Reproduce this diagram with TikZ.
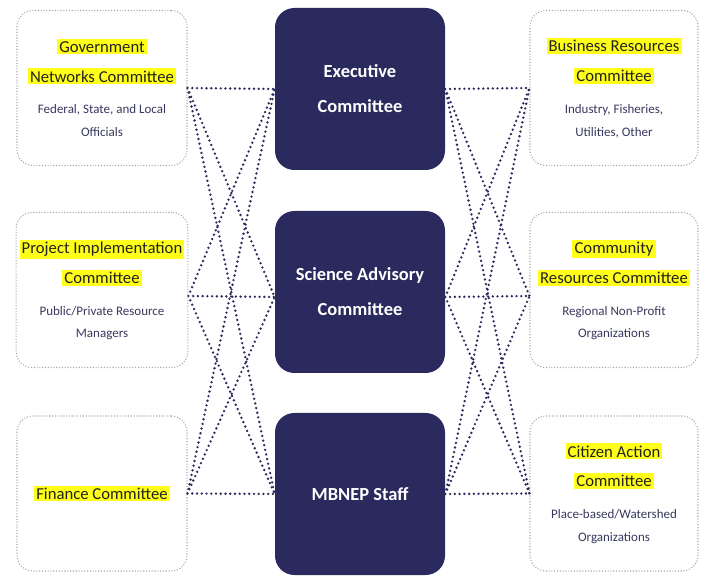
\documentclass[tikz,border=0pt]{standalone}
\usepackage{fontspec}
\setmainfont{Carlito}
\usepackage{xcolor}
\usepackage{tikz}
\usetikzlibrary{positioning}

\definecolor{navy}{HTML}{2B2A5E}
\definecolor{hlyellow}{HTML}{FFFF1A}
\definecolor{subtext}{HTML}{38385E}
\definecolor{headtext}{HTML}{22221C}
\newcommand{\hl}[1]{{\setlength{\fboxsep}{1.2pt}\colorbox{hlyellow}{#1}}}
\newcommand{\desc}[1]{{\fontsize{7.4}{13}\selectfont\color{subtext}#1}}

\begin{document}
\begin{tikzpicture}[
      committee/.style={rectangle, draw=gray!70, densely dotted, line width=0.6pt,
                  rounded corners=9pt, minimum width=3.4cm, minimum height=3.1cm,
                  align=center, inner sep=2pt, text=headtext,
                  font=\fontsize{9.5}{17}\selectfont},
      core/.style={rectangle, fill=navy, rounded corners=11pt,
                  minimum width=3.4cm, minimum height=3.24cm, align=center,
                  text=white, font=\bfseries\fontsize{10.5}{20}\selectfont},
      link/.style={navy, line width=1.5pt, dash pattern=on 0pt off 2.7pt, line cap=round},
    ]
    \useasboundingbox (0,0) rectangle (14.12,-11.56);

    % Left committees
    \node[committee] (gov) at (2.04, -1.76)
      {\hl{Government}\\\hl{Networks Committee}\\[1pt]\desc{Federal, State, and Local}\\[-4pt]\desc{Officials}};
    \node[committee] (proj) at (2.04, -5.80)
      {\hl{Project Implementation}\\\hl{Committee}\\[1pt]\desc{Public/Private Resource}\\[-4pt]\desc{Managers}};
    \node[committee] (fin) at (2.04, -9.87) {\hl{Finance Committee}};

    % Core bodies
    \node[core] (exec) at (7.2, -1.78) {Executive\\Committee};
    \node[core] (sci) at (7.2, -5.84) {Science Advisory\\Committee};
    \node[core] (staff) at (7.2, -9.88) {MBNEP Staff};

    % Right committees
    \node[committee, minimum width=3.36cm] (bus) at (12.28, -1.76)
      {\hl{Business Resources}\\\hl{Committee}\\[1pt]\desc{Industry, Fisheries,}\\[-4pt]\desc{Utilities, Other}};
    \node[committee, minimum width=3.36cm] (comm) at (12.28, -5.80)
      {\hl{Community}\\\hl{Resources Committee}\\[1pt]\desc{Regional Non-Profit}\\[-4pt]\desc{Organizations}};
    \node[committee, minimum width=3.36cm] (cit) at (12.28, -9.87)
      {\hl{Citizen Action}\\\hl{Committee}\\[1pt]\desc{Place-based/Watershed}\\[-4pt]\desc{Organizations}};

    % Link ends (middle row sits a little low)
    \coordinate (projR) at ([yshift=-0.12cm]proj.east);
    \coordinate (sciL) at ([yshift=-0.1cm]sci.west);
    \coordinate (sciR) at ([yshift=-0.1cm]sci.east);
    \coordinate (commL) at ([yshift=-0.12cm]comm.west);

    % Links: left committees to core
    \draw[link] (gov.east) -- (exec.west) (gov.east) -- (sciL) (gov.east) -- (staff.west);
    \draw[link] (projR) -- (exec.west) (projR) -- (sciL) (projR) -- (staff.west);
    \draw[link] (fin.east) -- (exec.west) (fin.east) -- (sciL) (fin.east) -- (staff.west);

    % Links: core to right committees
    \draw[link] (exec.east) -- (bus.west) (exec.east) -- (commL) (exec.east) -- (cit.west);
    \draw[link] (sciR) -- (bus.west) (sciR) -- (commL) (sciR) -- (cit.west);
    \draw[link] (staff.east) -- (bus.west) (staff.east) -- (commL) (staff.east) -- (cit.west);

    \end{tikzpicture}
\end{document}
